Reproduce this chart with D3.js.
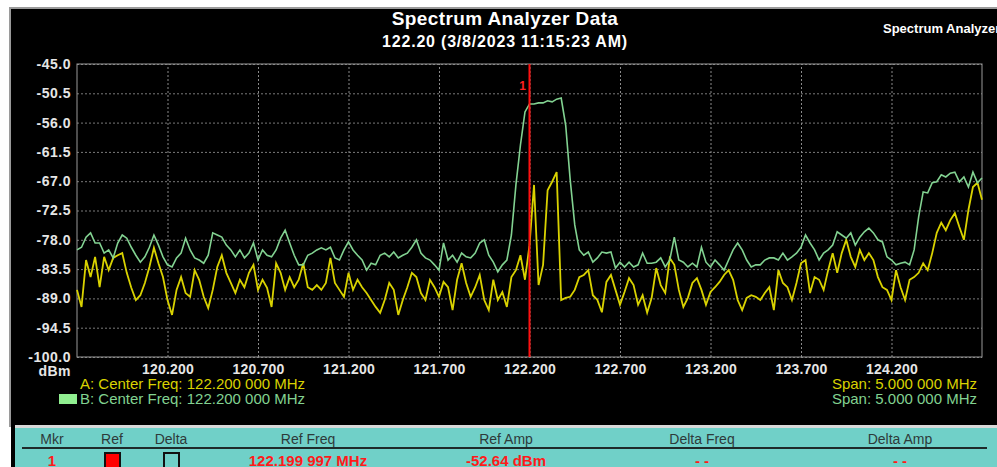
<!DOCTYPE html>
<html lang="en">
<head>
<meta charset="UTF-8">
<title>Spectrum Analyzer Data</title>
<script src="https://d3js.org/d3.v7.min.js"></script>
<style>
  body { margin: 0; background: #fff; }
  svg { display: block; font-family: "Liberation Sans", Arial, sans-serif; }
</style>
</head>
<body>
<script>
// sweep settings (MHz)
var centerFreq = 122.2;
var span = 5.0;
var freqStep = 0.025;

var yTicks = [-45.0, -50.5, -56.0, -61.5, -67.0, -72.5, -78.0, -83.5, -89.0, -94.5, -100.0];
var xTicks = [120.2, 120.7, 121.2, 121.7, 122.2, 122.7, 123.2, 123.7, 124.2];

// trace A (yellow), dBm, one value per sweep step
var traceA = [
  -87.4, -90.6, -81.8, -85.0, -81.2, -86.9, -81.2, -83.7, -81.4, -80.9,
  -80.5, -84.2, -87.0, -89.3, -88.4, -86.1, -83.1, -79.5, -82.4, -85.0,
  -89.3, -92.1, -87.4, -85.0, -88.0, -88.7, -83.7, -85.5, -88.7, -90.8,
  -87.4, -83.1, -80.9, -84.2, -86.1, -88.0, -85.5, -86.9, -84.2, -82.7,
  -87.4, -85.5, -87.0, -90.6, -82.4, -84.2, -87.4, -85.0, -86.9, -85.5,
  -82.4, -86.9, -87.4, -86.5, -87.4, -86.1, -81.4, -86.1, -87.4, -88.7,
  -84.2, -87.4, -85.5, -86.9, -88.0, -89.3, -90.6, -91.7, -89.3, -86.1,
  -87.4, -92.1, -89.3, -86.9, -84.2, -85.0, -88.0, -89.3, -85.5, -86.9,
  -88.7, -85.9, -86.9, -91.2, -85.5, -82.4, -86.1, -88.7, -86.9, -84.6,
  -89.3, -91.2, -85.5, -89.3, -87.8, -90.6, -85.0, -83.7, -80.9, -85.5,
  -79.0, -67.7, -86.5, -82.7, -68.7, -67.1, -65.3, -89.3, -88.9, -88.7,
  -87.4, -85.0, -84.6, -83.7, -88.4, -89.3, -91.6, -85.9, -84.6, -87.4,
  -90.2, -87.8, -85.2, -86.5, -90.2, -88.4, -91.7, -88.9, -83.3, -86.5,
  -88.0, -81.4, -82.7, -87.4, -90.6, -88.9, -86.1, -85.2, -87.4, -90.2,
  -87.8, -86.9, -85.9, -84.6, -83.7, -85.5, -89.3, -91.2, -88.9, -88.4,
  -88.7, -89.3, -88.0, -86.9, -91.2, -83.7, -86.1, -86.9, -89.3, -86.1,
  -82.4, -81.8, -88.0, -85.0, -85.5, -87.4, -83.7, -80.5, -84.2, -80.5,
  -78.0, -81.2, -83.1, -79.9, -81.8, -80.5, -81.8, -85.0, -86.9, -87.4,
  -89.3, -83.7, -86.9, -89.3, -85.5, -85.0, -84.2, -82.4, -83.7, -80.5,
  -76.7, -74.8, -76.2, -74.3, -73.0, -75.6, -78.0, -72.4, -68.1, -67.3,
  -70.5
];

// trace B (green), dBm
var traceB = [
  -79.9, -79.4, -77.5, -76.7, -78.6, -78.6, -80.5, -79.9, -81.4, -78.6,
  -77.1, -77.7, -79.4, -80.9, -82.2, -81.2, -79.4, -77.1, -79.0, -81.2,
  -82.7, -83.1, -81.4, -80.5, -77.7, -79.9, -81.4, -81.8, -82.4, -80.9,
  -76.7, -77.1, -77.5, -79.0, -79.9, -81.2, -79.9, -81.4, -80.5, -78.6,
  -81.8, -79.9, -80.9, -81.2, -79.9, -77.7, -76.2, -78.6, -80.9, -82.7,
  -82.7, -80.9, -80.5, -79.9, -79.5, -79.9, -79.4, -81.4, -81.8, -79.9,
  -78.4, -79.9, -80.9, -81.8, -83.7, -82.4, -82.7, -80.9, -80.5, -81.2,
  -80.3, -81.4, -80.9, -80.5, -79.4, -78.0, -80.5, -81.4, -81.8, -82.7,
  -83.7, -78.6, -81.8, -80.9, -82.2, -80.5, -81.2, -81.4, -80.5, -78.6,
  -78.0, -80.9, -82.2, -84.0, -82.7, -81.8, -77.1, -67.7, -60.2, -54.0,
  -52.5, -52.5, -52.3, -52.3, -51.9, -52.1, -51.6, -51.4, -56.5, -66.8,
  -75.2, -79.9, -80.9, -80.3, -82.2, -81.4, -80.3, -80.5, -80.3, -83.3,
  -82.2, -83.1, -82.2, -83.1, -82.7, -80.5, -82.4, -82.4, -82.2, -81.4,
  -83.1, -81.8, -77.5, -81.8, -82.2, -83.1, -82.4, -83.1, -79.4, -82.2,
  -83.1, -81.8, -82.7, -83.7, -81.8, -79.9, -78.6, -79.9, -81.8, -83.1,
  -82.7, -82.7, -81.8, -81.4, -81.4, -81.8, -80.5, -81.8, -81.2, -80.5,
  -79.4, -77.1, -78.6, -79.9, -81.8, -80.5, -79.9, -79.0, -76.5, -77.1,
  -77.7, -76.7, -79.0, -77.5, -76.5, -75.8, -76.7, -78.0, -78.4, -81.2,
  -81.8, -82.7, -82.4, -82.2, -82.7, -79.9, -73.7, -69.0, -69.2, -67.3,
  -67.1, -65.8, -66.2, -65.5, -65.3, -67.1, -66.2, -68.1, -65.3, -67.3,
  -66.4
];

// marker table
var tableCols = ["Mkr", "Ref", "Delta", "Ref Freq", "Ref Amp", "Delta Freq", "Delta Amp"];
var markerRow = ["1", "", "", "122.199 997 MHz", "-52.64 dBm", "- -", "- -"];
var markerFreq = 122.2;

var W = 997, H = 467;
var plot = { left: 77, right: 982, top: 64, bottom: 357 };
var colA = "#d9d200", colB = "#82d291";

var svg = d3.select("body").append("svg").attr("width", W).attr("height", H);

// frame + black panel
svg.append("rect").attr("x", 0).attr("y", 0).attr("width", W).attr("height", H).attr("fill", "#ffffff");
svg.append("rect").attr("x", 9).attr("y", 7).attr("width", W - 9).attr("height", 420).attr("fill", "#9a9a9a");
svg.append("rect").attr("x", 11).attr("y", 9).attr("width", W - 11).attr("height", 416).attr("fill", "#000");
svg.append("rect").attr("x", 11).attr("y", 425).attr("width", 4).attr("height", H - 425).attr("fill", "#000");
svg.append("rect").attr("x", 15).attr("y", 425).attr("width", W - 15).attr("height", 3).attr("fill", "#d8d8d8");

// titles
svg.append("text").attr("x", 505).attr("y", 25).attr("text-anchor", "middle")
  .attr("fill", "#fff").attr("font-size", 19).attr("font-weight", "bold").attr("letter-spacing", 0.4)
  .text("Spectrum Analyzer Data");
svg.append("text").attr("x", 505).attr("y", 47).attr("text-anchor", "middle")
  .attr("fill", "#fff").attr("font-size", 16).attr("font-weight", "bold").attr("letter-spacing", 0.8)
  .text("122.20 (3/8/2023 11:15:23 AM)");
svg.append("text").attr("x", 883).attr("y", 33)
  .attr("fill", "#fff").attr("font-size", 13).attr("font-weight", "bold").text("Spectrum Analyzer");

var x = d3.scaleLinear().domain([centerFreq - span / 2, centerFreq + span / 2]).range([plot.left, plot.right]);
var y = d3.scaleLinear().domain([-100, -45]).range([plot.bottom, plot.top]);

// y axis with grid
var gy = svg.append("g").attr("transform", "translate(" + plot.left + ",0)")
  .call(d3.axisLeft(y).tickValues(yTicks).tickSize(-(plot.right - plot.left)).tickPadding(6)
    .tickFormat(function (d) { return d.toFixed(1); }));
gy.select(".domain").remove();
gy.selectAll("line").attr("stroke", "#7a7a7a").attr("stroke-dasharray", "2,2");
gy.selectAll("text").attr("fill", "#e6e6e6").attr("font-size", 14).attr("font-weight", "bold")
  .attr("letter-spacing", 0.5).attr("font-family", "'Liberation Sans', Arial, sans-serif");

// x axis with grid
var gx = svg.append("g").attr("transform", "translate(0," + plot.bottom + ")")
  .call(d3.axisBottom(x).tickValues(xTicks).tickSize(-(plot.bottom - plot.top)).tickPadding(7)
    .tickFormat(function (d) { return d.toFixed(3); }));
gx.select(".domain").remove();
gx.selectAll("line").attr("stroke", "#8a8a8a").attr("stroke-dasharray", "2,2");
gx.selectAll("text").attr("fill", "#e6e6e6").attr("font-size", 14).attr("font-weight", "bold")
  .attr("letter-spacing", 0.2).attr("font-family", "'Liberation Sans', Arial, sans-serif");

svg.append("rect").attr("x", plot.left).attr("y", plot.top)
  .attr("width", plot.right - plot.left).attr("height", plot.bottom - plot.top)
  .attr("fill", "none").attr("stroke", "#9a9a9a").attr("stroke-width", 1);

svg.append("text").attr("x", 71).attr("y", 376).attr("text-anchor", "end")
  .attr("fill", "#e6e6e6").attr("font-size", 14).attr("font-weight", "bold").attr("letter-spacing", 0.5).text("dBm");

// traces
var line = d3.line()
  .x(function (d, i) { return x(centerFreq - span / 2 + i * freqStep); })
  .y(function (d) { return y(d); });

svg.append("path").datum(traceA).attr("d", line)
  .attr("fill", "none").attr("stroke", colA).attr("stroke-width", 1.8);
svg.append("path").datum(traceB).attr("d", line)
  .attr("fill", "none").attr("stroke", colB).attr("stroke-width", 1.6);

// marker 1
svg.append("line").attr("x1", x(markerFreq)).attr("x2", x(markerFreq))
  .attr("y1", plot.top).attr("y2", plot.bottom).attr("stroke", "#ff1010").attr("stroke-width", 2);
svg.append("text").attr("x", x(markerFreq) - 7).attr("y", 90).attr("text-anchor", "middle")
  .attr("fill", "#ff2020").attr("font-size", 12).attr("font-weight", "bold").text("1");

// legend
svg.append("rect").attr("x", 59).attr("y", 394).attr("width", 18).attr("height", 10).attr("fill", "#90ee90");
svg.append("text").attr("x", 80).attr("y", 389).attr("fill", colA).attr("font-size", 15)
  .text("A: Center Freq: 122.200 000 MHz");
svg.append("text").attr("x", 80).attr("y", 404).attr("fill", colB).attr("font-size", 15)
  .text("B: Center Freq: 122.200 000 MHz");
svg.append("text").attr("x", 977).attr("y", 389).attr("text-anchor", "end").attr("fill", colA).attr("font-size", 15)
  .text("Span: 5.000 000 MHz");
svg.append("text").attr("x", 977).attr("y", 404).attr("text-anchor", "end").attr("fill", colB).attr("font-size", 15)
  .text("Span: 5.000 000 MHz");

// marker table
var colX = [52, 112, 171, 308, 506, 702, 900];
svg.append("rect").attr("x", 15).attr("y", 428).attr("width", W - 15).attr("height", H - 428).attr("fill", "#70d0c8");
svg.selectAll(".hdr").data(tableCols).enter().append("text")
  .attr("x", function (d, i) { return colX[i]; }).attr("y", 444).attr("text-anchor", "middle")
  .attr("fill", "#2e3a3a").attr("font-size", 14).text(function (d) { return d; });
svg.append("line").attr("x1", 22).attr("x2", 987).attr("y1", 448).attr("y2", 448)
  .attr("stroke", "#1e2a2a").attr("stroke-width", 2);
svg.selectAll(".row").data(markerRow).enter().append("text")
  .attr("x", function (d, i) { return colX[i]; }).attr("y", 466).attr("text-anchor", "middle")
  .attr("fill", "#ff1a1a").attr("font-size", 15).attr("font-weight", "bold").text(function (d) { return d; });
svg.append("rect").attr("x", 105).attr("y", 453).attr("width", 15).attr("height", 16)
  .attr("fill", "#ff0000").attr("stroke", "#111").attr("stroke-width", 2);
svg.append("rect").attr("x", 164).attr("y", 453).attr("width", 15).attr("height", 16)
  .attr("fill", "none").attr("stroke", "#111").attr("stroke-width", 2);
</script>
</body>
</html>
